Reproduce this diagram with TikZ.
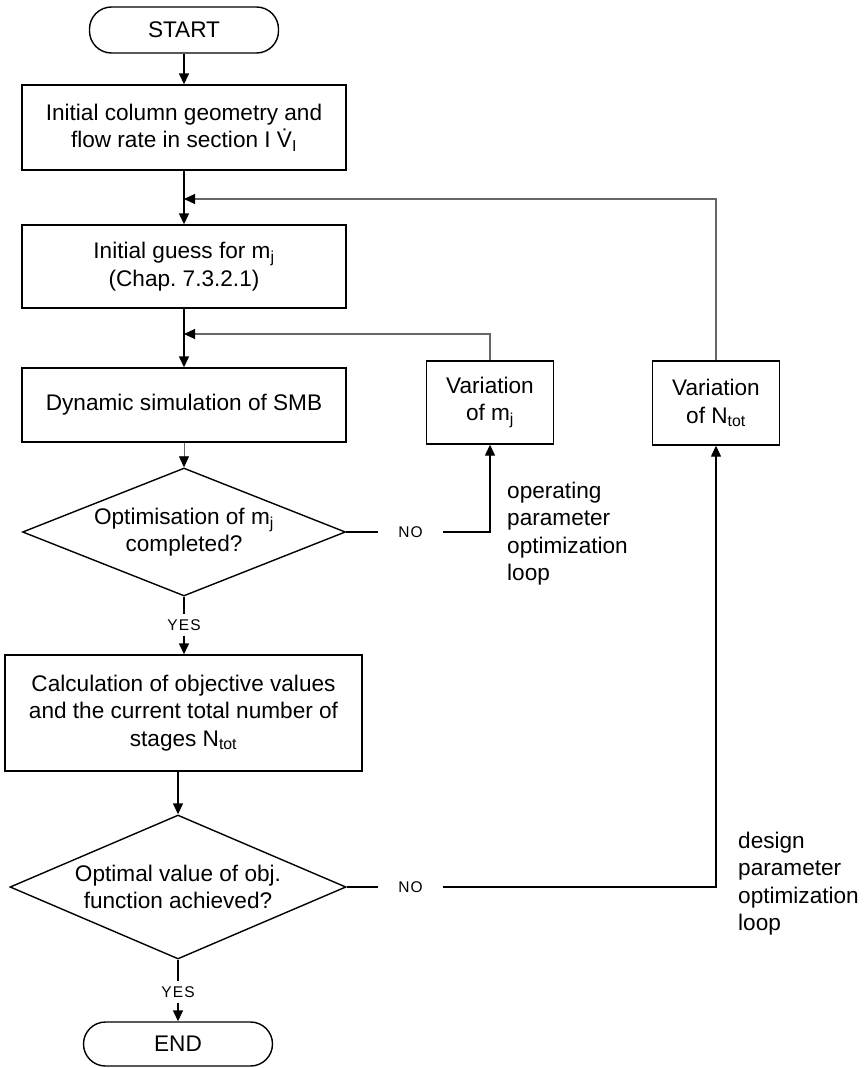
\documentclass[tikz,border=0pt]{standalone}
\usepackage{fontspec}
\setmainfont{Liberation Sans}
\newfontfamily\lblfont[LetterSpace=8]{Liberation Sans}
\usetikzlibrary{shapes.geometric,arrows.meta}
\frenchspacing

\begin{document}
\begin{tikzpicture}[x=1pt,y=-1pt,
  every node/.style={font=\fontsize{22.6}{27.5}\selectfont},
  proc/.style={draw, line width=1.4pt, rectangle, align=center, inner sep=0pt},
  term/.style={draw, line width=1.4pt, rectangle, rounded corners=22pt, inner sep=0pt},
  decision/.style={draw, line width=1.4pt, diamond, inner sep=0pt},
  tip/.style={-{Triangle[length=11pt,width=10pt,color=black]}},
  flow/.style={line width=1.4pt, tip},
  plain/.style={line width=1.4pt},
  back/.style={line width=1.1pt, draw=black!60, tip},
  thinflow/.style={line width=0.8pt, draw=black!60, tip},
  answer/.style={font=\lblfont\fontsize{15.5}{18}\selectfont, inner xsep=20pt, inner ysep=5pt},
  note/.style={align=left, inner sep=0pt, anchor=north west}
]
\useasboundingbox (0,0) rectangle (864,1068);

% main column
\node[term, minimum width=189pt, minimum height=46pt] (start) at (184,30) {START};
\node[proc, minimum width=324pt, minimum height=85pt] (init) at (184,127.5)
  {Initial column geometry and\\flow rate in section I \.{V}\textsubscript{I}};
\node[proc, minimum width=324pt, minimum height=83pt] (guess) at (184,266.5)
  {Initial guess for m\textsubscript{j}\\(Chap. 7.3.2.1)};
\node[proc, minimum width=324pt, minimum height=74pt] (sim) at (184,405)
  {Dynamic simulation of SMB};
\node[decision, minimum width=323pt, minimum height=128pt] (opt) at (184,532) {};
\node[align=center, inner sep=0pt] (optq) at (opt.center) {Optimisation of m\textsubscript{j}\\completed?};
\node[proc, minimum width=357pt, minimum height=116pt] (calc) at (183.5,713)
  {Calculation of objective values\\and the current total number of\\stages N\textsubscript{tot}};
\node[decision, minimum width=336pt, minimum height=144pt] (obj) at (178,887) {};
\node[align=center, inner sep=0pt] (objq) at (obj.center) {Optimal value of obj.\\function achieved?};
\node[term, minimum width=189pt, minimum height=44pt] (end) at (178,1044) {END};

% side boxes
\node[proc, minimum width=127pt, minimum height=83pt] (varm) at (490,402.5) {Variation\\of m\textsubscript{j}};
\node[proc, minimum width=127pt, minimum height=84pt] (varn) at (716,403) {Variation\\of N\textsubscript{tot}};

% branch labels
\node[answer] (no1) at (410.5,532) {NO};
\node[answer] (no2) at (410.5,887) {NO};
\node[answer] (yes1) at (184,625) {YES};
\node[answer] (yes2) at (178,992) {YES};

% loop notes
\node[note] (oploop) at (507,481.5) {operating\\parameter\\optimization\\loop};
\node[note] (desloop) at (738,831.5) {design\\parameter\\optimization\\loop};

% junctions of the return lines
\coordinate (j1) at (184,199);
\coordinate (j2) at (184,334);

% connectors
\draw[flow] (start) -- (init);
\draw[flow] (init) -- (guess);
\draw[flow] (guess) -- (sim);
\draw[thinflow] (sim) -- (opt);
\draw[plain] (opt) -- (yes1);
\draw[flow] (yes1.south) -- (yes1.south |- calc.north);
\draw[flow] (calc.south -| obj.north) -- (obj.north);
\draw[plain] (obj) -- (yes2);
\draw[flow] (yes2) -- (end);
\draw[plain] (opt.east) -- (no1.west);
\draw[flow] (no1.east) -| (varm.south);
\draw[plain] (obj.east) -- (no2.west);
\draw[flow] (no2.east) -| (varn.south);
\draw[back] (varn.north) |- (j1);
\draw[back] (varm.north) |- (j2);
\end{tikzpicture}
\end{document}
